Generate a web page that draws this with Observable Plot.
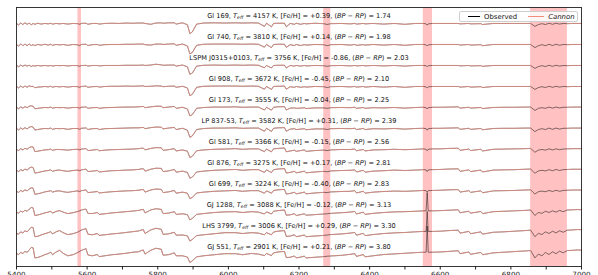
<!DOCTYPE html>
<html><head><meta charset="utf-8">
<script src="https://cdn.jsdelivr.net/npm/d3@7"></script>
<script src="https://cdn.jsdelivr.net/npm/@observablehq/plot@0.6"></script>
<style>
html,body{margin:0;padding:0;background:#fff;}
#wrap{position:relative;width:598px;height:275px;overflow:hidden;font-family:"DejaVu Sans",sans-serif;}
#legend{position:absolute;left:459px;top:11px;width:119px;height:11px;box-sizing:border-box;border:0.8px solid #cfcfcf;border-radius:2px;background:rgba(255,255,255,0.85);display:flex;align-items:center;font-size:6.9px;padding:0 3px 0 8px;color:#111;}
#legend .sw{display:inline-block;height:1px;margin-right:4px;}
#legend .item{display:flex;align-items:center;margin-right:11px;}
#legend .item:last-child{margin-right:0;}
</style></head>
<body><div id="wrap"></div>
<script>
// Wavelength grid (Angstrom)
const wavelengths = [
5400,5406,5412,5418,5424,5430,5436,5442,5447,5452,
5460,5470,5480,5490,5497,5502,5512,5522,5532,5545,
5560,5574,5579,5584,5592,5597,5602,5615,5629,5634,
5650,5670,5690,5710,5730,5745,5759,5764,5780,5795,
5810,5815,5830,5847,5852,5870,5884,5891,5898,5910,
5930,5960,5990,6020,6040,6065,6085,6102,6108,6122,
6128,6140,6159,6164,6175,6187,6192,6205,6215,6220,
6245,6270,6280,6290,6320,6345,6358,6363,6382,6387,
6410,6440,6470,6500,6530,6552,6560,6563,6566,6578,6600,6625,
6651,6656,6681,6686,6715,6720,6750,6780,6810,6840,
6856,6868,6878,6888,6898,6908,6918,6928,6938,6948,
6960,6975,6990,7000];

const starNames = ["Gl 169","Gl 740","LSPM J0315+0103","Gl 908","Gl 173","LP 837-53","Gl 581","Gl 876","Gl 699","GJ 1288","LHS 3799","GJ 551"];
const teffs = [4157,3810,3756,3672,3555,3582,3366,3275,3224,3088,3006,2901];
const fehs = [0.39,0.14,-0.86,-0.45,-0.04,0.31,-0.15,0.17,-0.40,-0.12,0.29,0.21];
const bpRp = [1.74,1.98,2.03,2.10,2.25,2.39,2.56,2.81,2.83,3.13,3.30,3.80];

const maskRegions = [[5574,5584],[6270,6290],[6552,6578],[6856,6960]];
const xTicks = [5400,5500,5600,5700,5800,5900,6000,6100,6200,6300,6400,6500,6600,6700,6800,6900,7000];
const seriesNames = ["Observed","Cannon"];
const seriesColors = ["#000000","#f28c7c"];

// Normalised fluxes, one array per star
const fluxGl169 = [
1.00,0.93,1.02,0.95,1.03,0.96,1.01,0.94,1.00,0.96,
1.01,0.97,1.00,0.98,1.01,0.97,1.00,0.98,1.00,0.97,
1.00,0.99,0.96,1.00,1.01,1.01,0.96,1.00,1.00,0.97,
1.00,1.01,1.00,1.02,1.01,1.02,1.02,1.00,0.96,1.02,
1.03,1.01,1.03,1.03,0.97,1.03,0.94,0.52,0.60,0.97,
1.02,1.03,1.02,1.03,1.02,1.03,1.02,0.86,1.01,0.84,
1.00,1.01,1.01,0.84,1.00,0.96,1.01,0.96,1.00,0.98,
1.01,0.99,0.95,0.99,1.00,0.98,1.00,0.97,1.00,0.98,
1.00,0.97,1.00,0.96,1.00,1.00,0.98,0.92,0.98,1.00,1.00,1.00,
1.00,0.98,1.00,0.98,0.99,0.95,1.00,1.00,1.00,1.00,
1.00,0.86,0.95,0.99,0.95,1.01,0.96,1.01,0.97,1.00,
0.99,1.00,1.00,1.00];
const fluxGl740 = [
1.00,0.92,1.03,0.94,1.02,0.95,1.02,0.95,0.99,0.95,
1.00,0.97,1.01,0.97,1.01,0.96,1.00,0.98,1.00,0.96,
1.00,0.98,0.95,1.00,1.01,1.01,0.95,0.99,1.00,0.96,
0.99,1.00,1.00,1.01,1.01,1.02,1.02,0.99,0.97,1.02,
1.02,1.00,1.02,1.03,0.96,1.02,0.93,0.55,0.62,0.96,
1.01,1.02,1.02,1.02,1.01,1.02,1.01,0.87,1.00,0.85,
1.00,1.01,1.01,0.86,0.99,0.95,1.00,0.95,0.99,0.97,
1.00,0.99,0.94,0.99,1.00,0.97,1.00,0.96,0.99,0.97,
1.00,0.97,1.00,0.96,1.00,1.00,0.98,0.93,0.98,1.00,1.00,1.00,
1.00,0.97,1.00,0.97,0.99,0.94,1.00,1.00,1.00,1.00,
1.00,0.85,0.94,0.99,0.94,1.01,0.95,1.01,0.96,1.00,
0.99,1.00,1.00,1.00];
const fluxLSPM = [
1.00,0.94,1.02,0.96,1.02,0.97,1.01,0.95,1.00,0.97,
1.00,0.98,1.00,0.98,1.00,0.97,1.00,0.99,1.00,0.98,
1.00,0.99,0.96,1.00,1.00,1.01,0.97,1.00,1.00,0.98,
1.00,1.00,1.00,1.01,1.01,1.01,1.02,1.00,1.02,1.06,
1.03,1.01,1.02,1.02,0.97,1.02,0.94,0.58,0.64,0.97,
1.01,1.02,1.01,1.02,1.01,1.02,1.01,0.89,1.00,0.88,
1.00,1.01,1.01,0.88,1.00,0.97,1.00,0.97,1.00,0.98,
1.00,0.99,0.96,0.99,1.00,0.98,1.00,0.98,1.00,0.98,
1.00,0.98,1.00,0.97,1.00,1.00,0.99,0.94,0.99,1.00,1.00,1.00,
1.00,0.98,1.00,0.98,0.99,0.96,1.00,1.00,1.00,1.00,
1.00,0.86,0.95,0.99,0.95,1.01,0.96,1.01,0.97,1.00,
0.99,1.00,1.00,1.00];
const fluxGl908 = [
1.00,0.93,1.02,0.95,1.02,0.96,1.03,1.00,1.01,0.94,
0.97,0.98,1.00,0.98,1.01,0.97,1.00,0.98,1.00,0.97,
1.00,0.99,0.96,1.00,1.01,1.02,0.96,0.99,1.00,0.97,
1.00,1.01,1.01,1.02,1.01,1.02,1.03,1.00,1.01,1.03,
1.02,0.99,1.01,1.02,0.96,1.01,0.93,0.56,0.63,0.96,
1.01,1.02,1.02,1.02,1.01,1.02,1.01,0.87,1.00,0.86,
1.00,1.01,1.02,0.87,0.99,0.96,1.00,0.96,0.99,0.97,
1.00,0.99,0.95,0.99,1.00,0.98,1.00,0.97,1.00,0.97,
1.00,0.97,1.00,0.96,1.00,1.00,0.98,0.93,0.98,1.00,1.00,1.00,
1.00,0.97,1.00,0.97,0.99,0.95,1.00,1.00,1.00,1.00,
1.00,0.86,0.95,0.99,0.95,1.01,0.96,1.01,0.97,1.00,
0.99,1.00,1.00,1.00];
const fluxGl173 = [
1.00,0.94,1.03,0.97,1.04,0.99,1.06,1.08,1.06,0.94,
0.96,0.98,1.00,0.99,1.02,0.97,1.00,0.99,1.00,0.97,
1.00,1.00,0.97,1.01,1.02,1.03,0.96,0.99,1.00,0.96,
0.99,1.00,1.01,1.02,1.02,1.03,1.05,0.99,1.03,1.06,
1.06,0.99,1.02,1.05,0.96,1.01,0.93,0.60,0.66,0.96,
1.00,1.02,1.02,1.03,1.01,1.02,1.02,0.88,1.01,0.87,
1.01,1.03,1.04,0.88,0.97,0.98,0.96,0.97,0.99,0.95,
0.98,0.98,0.96,0.99,1.00,0.99,1.01,0.96,1.00,0.96,
0.99,0.98,1.00,0.97,1.00,1.01,0.99,0.93,0.99,1.01,1.01,1.02,
1.03,0.97,1.01,0.97,1.00,0.95,1.00,1.01,1.01,1.02,
1.02,0.86,0.96,0.99,0.96,1.02,0.97,1.02,0.98,1.01,
1.01,1.02,1.02,1.02];
const fluxLP837 = [
1.00,0.93,1.03,0.96,1.04,0.98,1.06,1.09,1.07,0.93,
0.95,0.98,1.00,0.99,1.02,0.96,1.00,0.99,1.00,0.96,
1.00,1.00,0.96,1.01,1.02,1.03,0.95,0.99,1.00,0.95,
0.99,1.00,1.01,1.02,1.03,1.03,1.05,0.99,1.04,1.07,
1.06,0.98,1.02,1.05,0.95,1.01,0.92,0.58,0.65,0.95,
1.00,1.02,1.02,1.03,1.01,1.02,1.02,0.87,1.01,0.86,
1.01,1.03,1.04,0.87,0.97,0.99,0.95,0.97,0.99,0.94,
0.98,0.98,0.95,0.99,1.00,0.99,1.01,0.95,1.00,0.95,
0.99,0.98,1.00,0.97,1.00,1.01,0.99,0.92,0.99,1.01,1.01,1.02,
1.03,0.96,1.01,0.96,1.00,0.94,1.00,1.01,1.01,1.02,
1.02,0.85,0.95,0.99,0.95,1.02,0.96,1.02,0.97,1.01,
1.01,1.02,1.02,1.02];
const fluxGl581 = [
1.00,0.95,1.04,0.98,1.06,1.01,1.09,1.13,1.12,0.90,
0.92,0.95,0.98,0.99,1.02,0.96,1.00,1.00,0.99,0.97,
1.00,1.01,0.98,1.02,1.03,1.05,0.95,0.97,1.00,0.94,
0.97,0.99,1.00,1.01,1.02,1.04,1.07,0.98,1.05,1.09,
1.08,0.96,0.99,1.04,0.93,0.98,0.92,0.62,0.68,0.94,
0.98,1.01,1.02,1.04,1.01,1.03,1.03,0.90,1.02,0.89,
1.03,1.05,1.07,0.89,0.93,0.97,0.91,0.95,0.98,0.91,
0.95,0.97,0.95,0.98,1.00,1.00,1.02,0.94,1.00,0.93,
0.98,0.99,1.01,0.99,1.01,1.03,1.01,0.94,1.01,1.03,1.03,1.05,
1.06,0.96,1.02,0.95,1.01,0.93,1.01,1.02,1.03,1.04,
1.05,0.87,0.97,1.00,0.97,1.03,0.98,1.03,0.99,1.02,
1.03,1.04,1.04,1.04];
const fluxGl876 = [
1.00,0.95,1.04,0.99,1.07,1.02,1.11,1.16,1.14,0.88,
0.90,0.94,0.98,1.00,1.03,0.96,1.01,1.02,0.99,0.96,
1.00,1.02,0.99,1.03,1.05,1.07,0.95,0.97,1.00,0.93,
0.96,0.99,1.00,1.02,1.03,1.05,1.09,0.97,1.06,1.11,
1.10,0.95,0.98,1.05,0.92,0.97,0.91,0.63,0.69,0.93,
0.97,1.01,1.03,1.05,1.01,1.04,1.04,0.91,1.03,0.90,
1.04,1.07,1.09,0.88,0.91,0.96,0.89,0.93,0.97,0.89,
0.93,0.96,0.94,0.98,1.00,1.01,1.03,0.93,1.01,0.92,
0.97,0.99,1.02,1.00,1.02,1.04,1.03,0.95,1.03,1.04,1.05,1.07,
1.08,0.96,1.03,0.95,1.02,0.93,1.02,1.03,1.04,1.06,
1.07,0.87,0.98,1.01,0.98,1.04,0.99,1.05,1.00,1.04,
1.05,1.06,1.06,1.06];
const fluxGl699 = [
1.00,0.96,1.05,1.00,1.08,1.03,1.12,1.18,1.16,0.87,
0.89,0.93,0.98,1.01,1.04,0.97,1.02,1.03,0.99,0.96,
1.00,1.03,1.00,1.04,1.06,1.08,0.95,0.97,1.00,0.93,
0.96,0.99,1.01,1.03,1.04,1.06,1.10,0.97,1.07,1.12,
1.10,0.95,0.98,1.05,0.92,0.97,0.92,0.66,0.72,0.93,
0.97,1.01,1.03,1.05,1.01,1.04,1.04,0.92,1.03,0.92,
1.05,1.08,1.10,0.88,0.91,0.96,0.89,0.93,0.97,0.89,
0.93,0.96,0.95,0.98,1.00,1.01,1.04,0.93,1.01,0.92,
0.97,1.00,1.02,1.01,1.03,1.05,1.04,0.97,1.04,1.05,1.06,1.08,
1.09,0.97,1.04,0.96,1.03,0.94,1.03,1.04,1.05,1.07,
1.08,0.88,0.99,1.02,0.99,1.05,1.00,1.06,1.01,1.05,
1.06,1.07,1.07,1.07];
const fluxGJ1288 = [
1.00,0.97,1.07,1.02,1.11,1.06,1.16,1.24,1.22,0.86,
0.88,0.93,0.98,1.02,1.06,0.97,1.05,1.09,1.02,0.95,
0.99,1.05,1.08,1.12,1.15,1.16,0.96,0.95,1.00,0.91,
0.94,0.98,1.01,1.04,1.07,1.10,1.15,0.98,1.12,1.18,
1.15,0.95,0.97,1.04,0.91,0.94,0.90,0.65,0.72,0.91,
0.95,1.00,1.03,1.04,1.00,1.04,1.02,0.93,1.03,0.93,
1.06,1.09,1.12,0.87,0.89,0.94,0.86,0.90,0.94,0.87,
0.90,0.93,0.94,0.96,0.99,1.02,1.05,0.93,1.02,0.91,
0.96,1.00,1.03,1.04,1.06,1.08,1.08,1.95,1.08,1.08,1.09,1.11,
1.13,0.99,1.06,0.97,1.05,0.95,1.04,1.06,1.08,1.10,
1.12,0.86,1.00,0.96,1.06,1.00,1.08,1.02,1.10,1.04,
1.12,1.13,1.14,1.13];
const fluxLHS3799 = [
1.00,0.97,1.08,1.03,1.13,1.08,1.19,1.30,1.28,0.85,
0.87,0.93,0.99,1.04,1.09,0.98,1.08,1.14,1.04,0.95,
0.99,1.07,1.12,1.17,1.21,1.23,0.97,0.94,1.00,0.91,
0.94,0.98,1.01,1.05,1.09,1.12,1.19,1.00,1.17,1.25,
1.20,0.96,0.98,1.06,0.92,0.93,0.89,0.64,0.72,0.90,
0.94,0.99,1.04,1.04,1.00,1.04,1.02,0.94,1.04,0.94,
1.07,1.11,1.14,0.86,0.88,0.94,0.85,0.89,0.93,0.85,
0.88,0.91,0.93,0.95,0.98,1.02,1.05,0.92,1.01,0.90,
0.95,1.00,1.03,1.05,1.08,1.10,1.10,2.05,1.10,1.10,1.11,1.14,
1.16,1.02,1.10,0.99,1.08,0.97,1.06,1.08,1.11,1.14,
1.16,0.85,1.01,0.95,1.08,1.00,1.11,1.03,1.13,1.06,
1.16,1.17,1.19,1.18];
const fluxGJ551 = [
1.05,1.00,1.10,1.05,1.15,1.10,1.22,1.34,1.32,0.84,
0.86,0.92,0.99,1.05,1.11,0.99,1.12,1.20,1.06,0.94,
0.99,1.10,1.15,1.20,1.25,1.28,0.98,0.94,1.00,0.90,
0.94,0.99,1.02,1.06,1.11,1.13,1.22,1.02,1.20,1.30,
1.25,0.97,0.99,1.08,0.94,0.94,0.88,0.62,0.70,0.89,
0.94,0.99,1.04,1.04,0.99,1.05,1.02,0.95,1.05,0.95,
1.08,1.12,1.15,0.85,0.87,0.93,0.84,0.88,0.92,0.84,
0.87,0.90,0.92,0.93,0.96,1.01,1.04,0.91,1.00,0.89,
0.94,1.00,1.03,1.06,1.09,1.11,1.11,2.35,1.11,1.11,1.12,1.15,
1.18,1.04,1.12,1.01,1.10,0.99,1.08,1.11,1.14,1.17,
1.19,0.84,1.02,0.94,1.10,1.00,1.13,1.04,1.16,1.08,
1.19,1.20,1.22,1.20];

const fluxes = [fluxGl169,fluxGl740,fluxLSPM,fluxGl908,fluxGl173,fluxLP837,fluxGl581,fluxGl876,fluxGl699,fluxGJ1288,fluxLHS3799,fluxGJ551];

// Build the table: each star offset by 1 unit, Cannon masked inside shaded regions
const n = starNames.length;
const table = [];
starNames.forEach((name, i) => {
  const offset = n - 1 - i;
  fluxes[i].forEach((f, j) => {
    const wl = wavelengths[j];
    const masked = maskRegions.some(([a, b]) => wl > a && wl < b);
    table.push({star: name, wl, obs: f + offset, model: masked ? NaN : f + offset});
  });
});
const fmtFeh = v => (v >= 0 ? "+" : "-") + Math.abs(v).toFixed(2);
const labels = starNames.map((name, i) => ({name, level: n - i, teff: teffs[i], feh: fmtFeh(fehs[i]), col: bpRp[i].toFixed(2)}));
const masks = maskRegions.map(([a, b]) => ({a, b}));

const plot = Plot.plot({
  width: 598, height: 275,
  marginLeft: 16, marginRight: 17, marginTop: 7, marginBottom: 9,
  style: {fontFamily: "DejaVu Sans", fontSize: "7.2px", background: "white", color: "#222"},
  x: {domain: [5400, 7000]},
  y: {domain: [0.43, 12.76], axis: null},
  marks: [
    Plot.rect(masks, {x1: "a", x2: "b", fill: "#ff2020", fillOpacity: 0.28}),
    Plot.line(table, {x: "wl", y: "obs", z: "star", stroke: seriesColors[0], strokeWidth: 0.55, strokeOpacity: 0.9}),
    Plot.line(table, {x: "wl", y: "model", z: "star", stroke: seriesColors[1], strokeWidth: 0.85, strokeOpacity: 0.8}),
    Plot.text(labels, {y: "level", dy: -8, frameAnchor: "middle", text: d => `${d.name}, T eff = ${d.teff} K, [Fe/H] = ${d.feh}, (BP − RP) = ${d.col}`, fontSize: 6.6, fill: "#111"}),
    Plot.axisX({ticks: xTicks, tickSize: 3.5, tickPadding: 2, tickFormat: d => d % 200 === 0 ? String(d) : ""}),
    Plot.frame({stroke: "#222", strokeWidth: 0.9})
  ]
});

// Rich text for labels (italic T with subscript eff, italic BP/RP)
const NS = "http://www.w3.org/2000/svg";
const textEls = plot.querySelectorAll('g[aria-label="text"] text');
textEls.forEach((t, i) => {
  const d = labels[i];
  if (!d) return;
  while (t.firstChild) t.removeChild(t.firstChild);
  const parts = [
    {s: `${d.name}, `},
    {s: "T", it: true},
    {s: "eff", sub: true},
    {s: ` = ${d.teff} K, [Fe/H] = ${d.feh}, (`, back: true},
    {s: "BP", it: true},
    {s: " − "},
    {s: "RP", it: true},
    {s: `) = ${d.col}`}
  ];
  parts.forEach(p => {
    const ts = document.createElementNS(NS, "tspan");
    ts.textContent = p.s;
    if (p.it) ts.setAttribute("font-style", "italic");
    if (p.sub) { ts.setAttribute("font-style", "italic"); ts.setAttribute("font-size", "4.7"); ts.setAttribute("dy", "1.6"); }
    if (p.back) ts.setAttribute("dy", "-1.6");
    t.appendChild(ts);
  });
});

const wrap = document.getElementById("wrap");
wrap.appendChild(plot);

// Legend
const legend = document.createElement("div");
legend.id = "legend";
seriesNames.forEach((s, k) => {
  const item = document.createElement("span");
  item.className = "item";
  const sw = document.createElement("span");
  sw.className = "sw";
  sw.style.background = seriesColors[k];
  sw.style.width = k === 0 ? "12px" : "16px";
  sw.style.height = k === 0 ? "1px" : "1.3px";
  const lab = document.createElement("span");
  lab.textContent = s;
  if (k === 1) lab.style.fontStyle = "italic";
  item.appendChild(sw); item.appendChild(lab);
  legend.appendChild(item);
});
wrap.appendChild(legend);
</script>
</body></html>
